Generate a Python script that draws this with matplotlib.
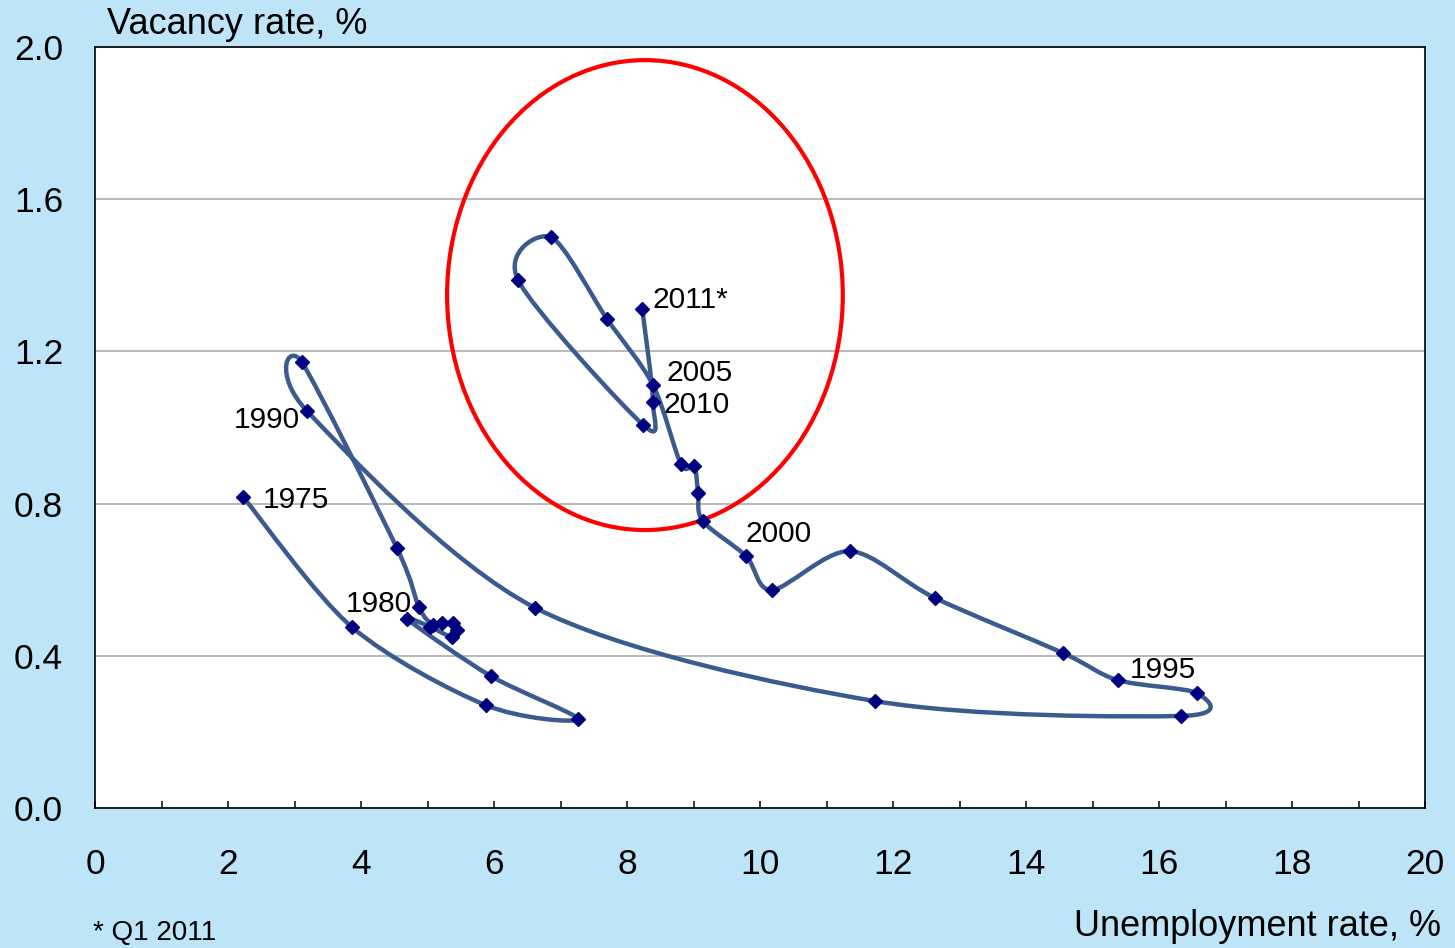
#!/usr/bin/env python3
import numpy as np
import matplotlib
matplotlib.use("Agg")
import matplotlib.pyplot as plt
from matplotlib.path import Path
from matplotlib.patches import PathPatch, Ellipse

plt.rcParams['font.family'] = ['Liberation Sans', 'DejaVu Sans']

# Beveridge curve, annual points 1975 - Q1 2011
years = list(range(1975, 2012))
unemployment = [2.23, 3.86, 5.88, 7.26, 5.95, 4.69, 5.04, 5.37, 5.44, 5.38,
                5.22, 5.08, 4.87, 4.54, 3.11, 3.19, 6.62, 11.73, 16.33, 16.57,
                15.38, 14.56, 12.63, 11.35, 10.18, 9.79, 9.14, 9.07, 9.01, 8.81,
                8.39, 7.70, 6.86, 6.36, 8.24, 8.39, 8.23]
vacancy = [0.817, 0.476, 0.270, 0.234, 0.347, 0.497, 0.476, 0.449, 0.468, 0.486,
           0.486, 0.481, 0.528, 0.683, 1.172, 1.043, 0.526, 0.281, 0.242, 0.302,
           0.336, 0.407, 0.552, 0.675, 0.573, 0.662, 0.754, 0.828, 0.899, 0.904,
           1.112, 1.285, 1.500, 1.388, 1.007, 1.067, 1.311]

# year -> (label text, offset in pixels, alignment)
point_labels = {
    1975: ("1975", (19, -3), "left"),
    1980: ("1980", (5, 15), "right"),
    1990: ("1990", (-7, -9), "right"),
    1995: ("1995", (12, 10), "left"),
    2000: ("2000", (-1, 22), "left"),
    2005: ("2005", (14, 12), "left"),
    2010: ("2010", (11, -3), "left"),
    2011: ("2011*", (10, 9), "left"),
}

x_ticks = list(range(0, 21, 2))
y_ticks = [0.0, 0.4, 0.8, 1.2, 1.6, 2.0]

# highlighted region (red ellipse), in data units
circle_center = (8.27, 1.348)
circle_w, circle_h = 5.95, 1.235

LINE_COLOR = '#3B5B8F'
MARKER_COLOR = '#000080'
BG = '#BEE5F7'


def smooth_path(xs, ys, k=0.15):
    # excel-like smoothed line: cubic bezier through every point
    pts = np.column_stack([xs, ys])
    n = len(pts)
    verts = [pts[0]]
    codes = [Path.MOVETO]
    for i in range(n - 1):
        p0 = pts[i - 1] if i > 0 else pts[i]
        p1 = pts[i]
        p2 = pts[i + 1]
        p3 = pts[i + 2] if i + 2 < n else pts[i + 1]
        verts += [p1 + (p2 - p0) * k, p2 - (p3 - p1) * k, p2]
        codes += [Path.CURVE4] * 3
    return Path(verts, codes)


fig = plt.figure(figsize=(14.55, 9.48), dpi=100)
fig.patch.set_facecolor(BG)
ax = fig.add_axes([95 / 1455, 1 - 808 / 948, 1330 / 1455, 761 / 948])
ax.set_facecolor('white')

ax.set_xlim(0, 20)
ax.set_ylim(0, 2.0)

ax.add_patch(PathPatch(smooth_path(unemployment, vacancy), fill=False,
                       edgecolor=LINE_COLOR, lw=3.2, capstyle='round',
                       joinstyle='round', zorder=3))
ax.plot(unemployment, vacancy, linestyle='none', marker='D', ms=7.4,
        color=MARKER_COLOR, zorder=5)

ax.add_patch(Ellipse(circle_center, circle_w, circle_h, fill=False,
                     edgecolor='#FF0000', lw=3.0, zorder=4))

for yr, (txt, off, ha) in point_labels.items():
    i = years.index(yr)
    ax.annotate(txt, (unemployment[i], vacancy[i]), xytext=off,
                textcoords='offset pixels', ha=ha, va='center',
                fontsize=21.5, color='black', zorder=6)

ax.set_xticks(x_ticks)
ax.set_xticks(range(1, 20, 2), minor=True)
ax.set_yticks(y_ticks)
ax.set_yticklabels(["%.1f" % v for v in y_ticks])
ax.tick_params(axis='x', which='both', direction='in', length=5, width=1.1,
               labelsize=25.5, pad=29, color='black')
ax.tick_params(axis='y', length=0, labelsize=25.5, pad=23)
ax.yaxis.grid(True, color='#A6A6A6', lw=1.1)
ax.set_axisbelow(True)
for s in ax.spines.values():
    s.set_color('black')
    s.set_linewidth(1.2)

fig.text(107 / 1455, 1 - 25 / 948, "Vacancy rate, %", fontsize=26,
         ha='left', va='center')
fig.text(1441 / 1455, 1 - 926 / 948, "Unemployment rate, %", fontsize=26,
         ha='right', va='center')
fig.text(93 / 1455, 1 - 946 / 948, "* Q1 2011", fontsize=20,
         ha='left', va='bottom')

fig.savefig("out.png", dpi=100, facecolor=BG)
